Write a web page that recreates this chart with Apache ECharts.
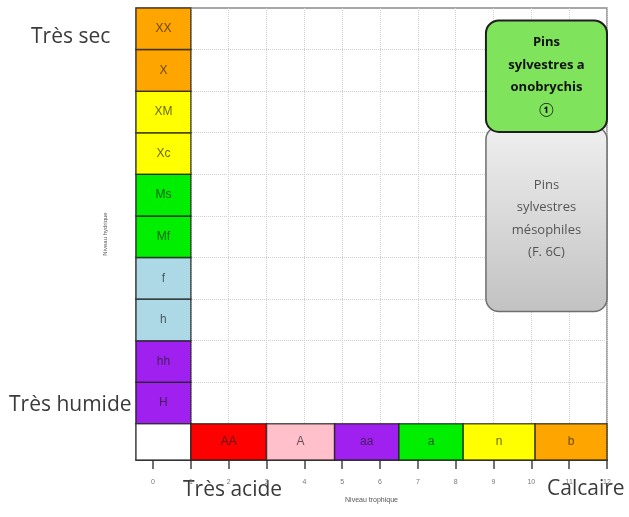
<!DOCTYPE html>
<html>
<head>
<meta charset="utf-8">
<script src="https://cdn.jsdelivr.net/npm/echarts@6/dist/echarts.min.js"></script>
<style>
  html, body { margin: 0; padding: 0; background: #fff; }
  #chart { width: 629px; height: 517px; }
</style>
</head>
<body>
<div id="chart"></div>
<script>
"use strict";
// niveau hydrique (bas -> haut)
const hydroLabels = ['H', 'hh', 'h', 'f', 'Mf', 'Ms', 'Xc', 'XM', 'X', 'XX'];
const hydroColors = ['#a020f0', '#a020f0', '#add8e6', '#add8e6', '#00ee00', '#00ee00', '#ffff00', '#ffff00', '#ffa500', '#ffa500'];
// niveau trophique
const trophLabels = ['AA', 'A', 'aa', 'a', 'n', 'b'];
const trophBreaks = [1, 3, 4.8, 6.5, 8.2, 10.1, 12];
const trophColors = ['#ff0000', '#ffc0cb', '#a020f0', '#00ee00', '#ffff00', '#ffa500'];
const xTicks = [0, 1, 2, 3, 4, 5, 6, 7, 8, 9, 10, 11, 12];
const yGrid = [1, 2, 3, 4, 5, 6, 7, 8, 9];
// groupements : [x0, x1, y0, y1]
const greyBox = [8.8, 12, 2.7, 7.15];
const greenBox = [8.8, 12, 7.02, 9.7];
const greyText = 'Pins\nsylvestres\nmésophiles\n(F. 6C)';
const greenText = 'Pins\nsylvestres a\nonobrychis\n①';

const X_MIN = -0.45, Y_MIN = -0.87;

const cells = [];
hydroLabels.forEach((lab, i) => cells.push([X_MIN, 1, i, i + 1, lab, hydroColors[i]]));
cells.push([X_MIN, 1, Y_MIN, 0, '', '#ffffff']);
trophLabels.forEach((lab, i) => cells.push([trophBreaks[i], trophBreaks[i + 1], Y_MIN, 0, lab, trophColors[i]]));

const chart = echarts.init(document.getElementById('chart'));

function cellItem(params, api) {
    const p0 = api.coord([api.value(0), api.value(3)]);
    const p1 = api.coord([api.value(1), api.value(2)]);
    const d = cells[params.dataIndex];
    return {
        type: 'rect',
        shape: { x: p0[0], y: p0[1], width: p1[0] - p0[0], height: p1[1] - p0[1] },
        style: { fill: d[5], stroke: 'rgba(30,30,30,0.75)', lineWidth: 1.5 },
        textContent: {
            style: { text: d[4], fill: 'rgba(30,30,30,0.7)', fontSize: 12, fontFamily: 'Liberation Sans, Arial, sans-serif' }
        },
        textConfig: { position: 'inside' }
    };
}

function boxItem(box, fill, stroke, lw, text, textStyle) {
    return function (params, api) {
        const p0 = api.coord([box[0], box[3]]);
        const p1 = api.coord([box[1], box[2]]);
        return {
            type: 'rect',
            shape: { x: p0[0], y: p0[1], width: p1[0] - p0[0], height: p1[1] - p0[1], r: 13 },
            style: { fill: fill, stroke: stroke, lineWidth: lw },
            textContent: { style: Object.assign({ text: text, align: 'center', lineHeight: 22.5 }, textStyle) },
            textConfig: { position: 'inside' }
        };
    };
}

const bigText = { fill: '#3a3a3a', fontSize: 21, fontFamily: 'Open Sans, Lato, sans-serif' };

chart.setOption({
    animation: false,
    grid: { left: 136, right: 22, top: 8, bottom: 57, show: true, borderColor: '#8a8a8a', borderWidth: 1.5 },
    xAxis: {
        type: 'value', min: X_MIN, max: 12,
        name: 'Niveau trophique', nameLocation: 'middle', nameGap: 37,
        nameTextStyle: { fontSize: 7, color: '#555' },
        axisLine: { show: true, onZero: false, lineStyle: { color: '#333', width: 1.5 } },
        axisTick: { show: true, length: 9, lineStyle: { color: '#444', width: 1.5 }, customValues: xTicks },
        axisLabel: { fontSize: 7, color: '#777', margin: 19, customValues: xTicks },
        splitLine: { show: true, lineStyle: { color: '#cfcfcf', type: 'dotted', width: 1 } }
    },
    yAxis: {
        type: 'value', min: Y_MIN, max: 10,
        name: 'Niveau hydrique', nameLocation: 'middle', nameGap: 28,
        nameTextStyle: { fontSize: 6, color: '#555' },
        axisLine: { show: false, onZero: false },
        axisTick: { show: false, customValues: yGrid },
        axisLabel: { show: false, customValues: yGrid },
        splitLine: { show: true, lineStyle: { color: '#cfcfcf', type: 'dotted', width: 1 } }
    },
    graphic: [
        { type: 'text', left: 31, top: 27, style: Object.assign({ text: 'Très sec' }, bigText) },
        { type: 'text', left: 9, top: 395, style: Object.assign({ text: 'Très humide' }, bigText) },
        { type: 'text', left: 183, top: 480, style: Object.assign({ text: 'Très acide' }, bigText) },
        { type: 'text', left: 547, top: 479, style: Object.assign({ text: 'Calcaire' }, bigText) }
    ],
    series: [
        {
            type: 'custom', renderItem: cellItem, data: cells, clip: false, z: 3,
            encode: { x: [0, 1], y: [2, 3] }
        },
        {
            type: 'custom', data: [0], clip: false, z: 4,
            renderItem: boxItem(greyBox,
                new echarts.graphic.LinearGradient(0, 0, 0, 1, [{ offset: 0, color: '#efefef' }, { offset: 1, color: '#c2c2c2' }]),
                '#6f6f6f', 1.5, greyText,
                { fill: '#555', fontSize: 13, fontFamily: 'Open Sans, Lato, sans-serif' })
        },
        {
            type: 'custom', data: [0], clip: false, z: 5,
            renderItem: boxItem(greenBox, '#80e35c', '#1e1e1e', 2, greenText,
                { fill: '#111', fontSize: 13, fontWeight: 'bold', fontFamily: 'Open Sans, Lato, Noto Sans CJK SC, sans-serif' })
        }
    ]
});
</script>
</body>
</html>
